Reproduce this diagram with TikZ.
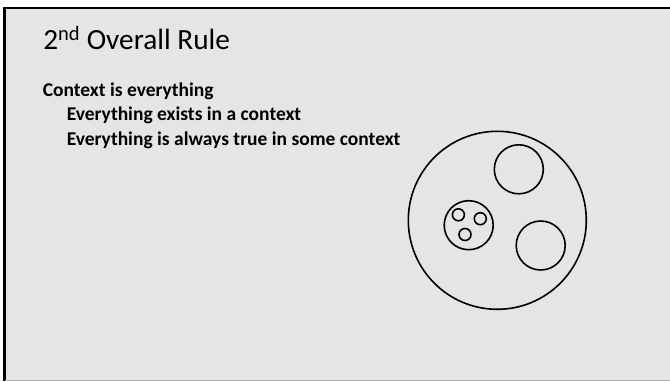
\documentclass[tikz,border=0pt]{standalone}
\usepackage{fontspec}
\setmainfont{Carlito}
\begin{document}
\begin{tikzpicture}[x=1pt, y=-1pt, line width=1.6pt,
  titletext/.style={anchor=base west, inner sep=0pt, font=\fontsize{29.3}{35}\selectfont},
  bodytext/.style={anchor=base west, inner sep=0pt, font=\fontsize{19.5}{24}\selectfont\bfseries}]

% slide background
\useasboundingbox (0,0) rectangle (670,382);
\fill[white] (0,0) rectangle (670,382);
\fill[gray!20] (5,8) rectangle (670,381);
\draw[line width=2.5pt] (4.5,381) -- (4.5,8) -- (670,8);
\draw[gray!60, line width=1pt] (5,380.5) -- (670,380.5);

% title and text
\node[titletext] (title) at (42.5,49.5) {2\textsuperscript{nd} Overall Rule};
\node[bodytext] (rule) at (42,96.8) {Context is everything};
\node[bodytext] (exists) at (66,121) {Everything exists in a context};
\node[bodytext] (alwaystrue) at (66,145.2) {Everything is always true in some context};

% outer context
\draw (497.3,220.3) circle (89pt);

% contexts inside it
\foreach \cx/\cy in {518.8/169.3, 540.7/245.5, 468.7/225.2}
  \draw (\cx,\cy) circle (24.5pt);

% contexts inside a context
\foreach \cx/\cy in {458.4/214.8, 480.3/218.7, 465/234.5}
  \draw (\cx,\cy) circle (6pt);

\end{tikzpicture}
\end{document}
